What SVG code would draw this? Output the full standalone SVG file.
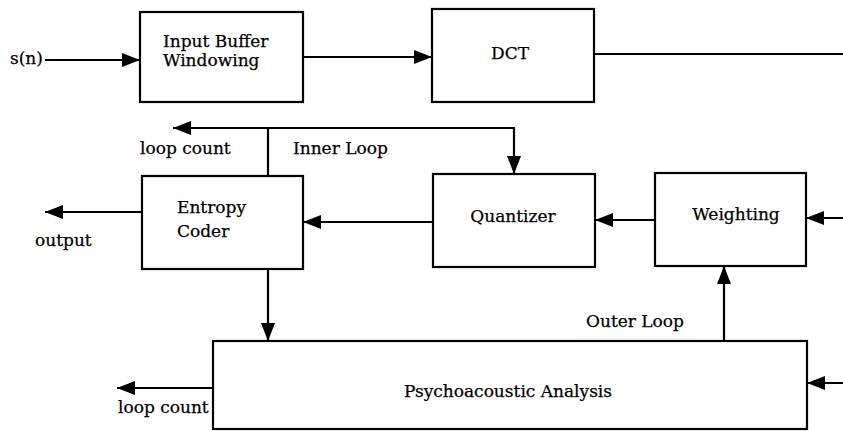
<svg xmlns="http://www.w3.org/2000/svg" width="843" height="431" viewBox="0 0 843 431">
<style>
  .box { fill: #fff; stroke: #000; stroke-width: 2.2; }
  .ln { fill: none; stroke: #000; stroke-width: 2.2; }
  .arr { marker-end: url(#ah); }
  text { font-family: "DejaVu Serif", "Liberation Serif", serif; font-size: 17px; fill: #000; stroke: #000; stroke-width: 0.25; }
  .c { text-anchor: middle; }
</style>
<defs>
  <marker id="ah" markerUnits="userSpaceOnUse" markerWidth="18" markerHeight="14" refX="18" refY="7" orient="auto">
    <path d="M0,0 L18,7 L0,14 z" fill="#000"/>
  </marker>
</defs>
<rect width="843" height="431" fill="#fff"/>
<g id="connectors">
  <line class="ln arr" x1="45" y1="60" x2="140" y2="60"/>
  <line class="ln arr" x1="303" y1="57" x2="432" y2="57"/>
  <line class="ln" x1="594" y1="54" x2="843" y2="54"/>
  <line class="ln arr" x1="268" y1="128" x2="173" y2="128"/>
  <polyline class="ln arr" points="268,128 514,128 514,174"/>
  <line class="ln" x1="268" y1="128" x2="268" y2="176"/>
  <line class="ln arr" x1="142" y1="212" x2="45" y2="212"/>
  <line class="ln arr" x1="433" y1="222" x2="303" y2="222"/>
  <line class="ln arr" x1="655" y1="220" x2="595" y2="220"/>
  <line class="ln arr" x1="843" y1="218" x2="806" y2="218"/>
  <line class="ln arr" x1="268" y1="269" x2="268" y2="341"/>
  <line class="ln arr" x1="724" y1="341" x2="724" y2="266"/>
  <line class="ln arr" x1="213" y1="388" x2="117" y2="388"/>
  <line class="ln arr" x1="843" y1="383" x2="807" y2="383"/>
</g>
<g id="input-label"><text x="10" y="64">s(n)</text></g>
<g id="input-buffer">
  <rect class="box" x="140" y="12" width="163" height="90"/>
  <text x="163" y="47">Input Buffer</text>
  <text x="163" y="66">Windowing</text>
</g>
<g id="dct">
  <rect class="box" x="432" y="9" width="162" height="93"/>
  <text class="c" x="510" y="59">DCT</text>
</g>
<g id="entropy-coder">
  <rect class="box" x="142" y="176" width="161" height="93"/>
  <text x="177" y="213">Entropy</text>
  <text x="177" y="237">Coder</text>
</g>
<g id="quantizer">
  <rect class="box" x="433" y="174" width="162" height="93"/>
  <text class="c" x="513" y="222">Quantizer</text>
</g>
<g id="weighting">
  <rect class="box" x="655" y="173" width="151" height="93"/>
  <text class="c" x="736" y="220">Weighting</text>
</g>
<g id="psychoacoustic">
  <rect class="box" x="213" y="341" width="594" height="88"/>
  <text class="c" x="508" y="397">Psychoacoustic Analysis</text>
</g>
<g id="labels">
  <text x="140" y="154">loop count</text>
  <text x="293" y="154">Inner Loop</text>
  <text x="35" y="246">output</text>
  <text x="586" y="327">Outer Loop</text>
  <text x="118" y="413">loop count</text>
</g>
</svg>
